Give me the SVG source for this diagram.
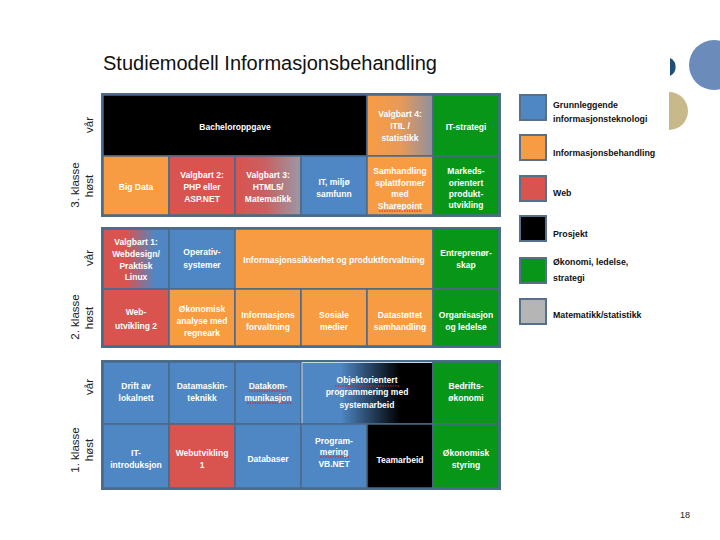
<svg xmlns="http://www.w3.org/2000/svg" width="720" height="540" viewBox="0 0 720 540">
<defs>
<style>
.blk{fill:#4d6d8c}
.c{stroke:#4a6a88;stroke-width:1.5}
.b{fill:#4f87c5}.o{fill:#f89c44}.r{fill:#d9534f}.g{fill:#089618}.k{fill:#000}.gr{fill:#b5b5b5}
.t{font-family:"Liberation Sans",Arial,sans-serif;font-size:8.5px;font-weight:bold;fill:#fff;text-anchor:middle}
.lg{font-family:"Liberation Sans",Arial,sans-serif;font-size:8.8px;font-weight:bold;fill:#111}
.side{font-family:"Liberation Sans",Arial,sans-serif;font-size:11.5px;fill:#222;text-anchor:middle}
.sq{stroke:#56708c;stroke-width:2}
.sp{stroke:#d02020;stroke-width:1;stroke-dasharray:1.5 1;fill:none}
</style>
<linearGradient id="gRedGrey" x1="0" y1="0" x2="1" y2="0"><stop offset="0" stop-color="#d9534f"/><stop offset="0.45" stop-color="#c96060"/><stop offset="1" stop-color="#9a98a6"/></linearGradient>
<linearGradient id="gOrGrey" x1="0" y1="0" x2="1" y2="0"><stop offset="0" stop-color="#f89c44"/><stop offset="0.5" stop-color="#e89a58"/><stop offset="1" stop-color="#8f90a0"/></linearGradient>
<linearGradient id="gRedBlue" x1="0" y1="0" x2="1" y2="0"><stop offset="0" stop-color="#d9534f"/><stop offset="0.35" stop-color="#d9534f"/><stop offset="0.8" stop-color="#4f87c5"/><stop offset="1" stop-color="#4f87c5"/></linearGradient>
<linearGradient id="gBlueBlack" x1="0" y1="0" x2="1" y2="0"><stop offset="0" stop-color="#4f87c5"/><stop offset="0.3" stop-color="#4f87c5"/><stop offset="0.75" stop-color="#000"/><stop offset="1" stop-color="#000"/></linearGradient>
</defs>
<rect width="720" height="540" fill="#fff"/>

<!-- decorative circles -->
<g id="decor">
<circle cx="714" cy="65" r="25" fill="#6b8cba"/>
<path d="M670,58 A10,10 0 0 1 670,76 Z" fill="#1f4e79"/>
<path d="M669,92 A19,19 0 0 1 669,130 Z" fill="#c8b98b"/>
</g>

<text x="103" y="70" font-family="Liberation Sans,Arial,sans-serif" font-size="20" fill="#111" textLength="334" lengthAdjust="spacingAndGlyphs">Studiemodell Informasjonsbehandling</text>

<!-- side labels -->
<g id="sidelabels">
<text class="side" transform="translate(93,125) rotate(-90)">vår</text>
<text class="side" transform="translate(79,185) rotate(-90)">3. klasse</text>
<text class="side" transform="translate(93,186) rotate(-90)">høst</text>
<text class="side" transform="translate(93,258) rotate(-90)">vår</text>
<text class="side" transform="translate(79,317) rotate(-90)" fill="#555">2. klasse</text>
<text class="side" transform="translate(93,318) rotate(-90)">høst</text>
<text class="side" transform="translate(93,387) rotate(-90)">vår</text>
<text class="side" transform="translate(79,450) rotate(-90)">1. klasse</text>
<text class="side" transform="translate(93,450) rotate(-90)">høst</text>
</g>

<!-- Block 1: 3. klasse -->
<rect class="blk" x="101" y="93" width="400" height="124"/>
<g id="bachelor"><rect class="c k" x="103" y="95" width="264" height="61"/><text class="t" x="235" y="130">Bacheloroppgave</text></g>
<g id="valgbart4"><rect class="c" fill="url(#gOrGrey)" x="367" y="95" width="66" height="61"/><text class="t" x="400" y="117">Valgbart 4:</text><text class="t" x="400" y="129">ITIL /</text><text class="t" x="400" y="141">statistikk</text></g>
<g id="itstrategi"><rect class="c g" x="433" y="95" width="66" height="61"/><text class="t" x="466" y="130">IT-strategi</text></g>
<g id="bigdata"><rect class="c o" x="103" y="156" width="66" height="59"/><text class="t" x="136" y="190">Big Data</text></g>
<g id="valgbart2"><rect class="c r" x="169" y="156" width="66" height="59"/><text class="t" x="202" y="178">Valgbart 2:</text><text class="t" x="202" y="190">PHP eller</text><text class="t" x="202" y="202">ASP.NET</text></g>
<g id="valgbart3"><rect class="c" fill="url(#gRedGrey)" x="235" y="156" width="66" height="59"/><text class="t" x="268" y="178">Valgbart 3:</text><text class="t" x="268" y="190">HTML5/</text><text class="t" x="268" y="202">Matematikk</text></g>
<g id="itmiljo"><rect class="c b" x="301" y="156" width="66" height="59"/><text class="t" x="334" y="185">IT, miljø</text><text class="t" x="334" y="197">samfunn</text></g>
<g id="samhandling"><rect class="c o" x="367" y="156" width="66" height="59"/><text class="t" x="400" y="174">Samhandling</text><text class="t" x="400" y="186">splattformer</text><text class="t" x="400" y="197">med</text><text class="t" x="400" y="209">Sharepoint</text><path class="sp" d="M379,211 H422"/></g>
<g id="markeds"><rect class="c g" x="433" y="156" width="66" height="59"/><text class="t" x="466" y="174">Markeds-</text><text class="t" x="466" y="186">orientert</text><text class="t" x="466" y="197">produkt-</text><text class="t" x="466" y="208">utvikling</text></g>

<!-- Block 2: 2. klasse -->
<rect class="blk" x="101" y="227" width="400" height="121"/>
<g id="valgbart1"><rect class="c" fill="url(#gRedBlue)" x="103" y="229" width="66" height="60"/><text class="t" x="136" y="245">Valgbart 1:</text><text class="t" x="136" y="257">Webdesign/</text><text class="t" x="136" y="269">Praktisk</text><text class="t" x="136" y="280">Linux</text></g>
<g id="operativ"><rect class="c b" x="169" y="229" width="66" height="60"/><text class="t" x="202" y="255">Operativ-</text><text class="t" x="202" y="268">systemer</text></g>
<g id="infosikkerhet"><rect class="c o" x="235" y="229" width="198" height="60"/><text class="t" x="334" y="263">Informasjonssikkerhet og produktforvaltning</text></g>
<g id="entreprenor"><rect class="c g" x="433" y="229" width="66" height="60"/><text class="t" x="466" y="256">Entreprenør-</text><text class="t" x="466" y="268">skap</text></g>
<g id="webutvikling2"><rect class="c r" x="103" y="289" width="66" height="57"/><text class="t" x="136" y="315">Web-</text><text class="t" x="136" y="329">utvikling 2</text></g>
<g id="okanalyse"><rect class="c o" x="169" y="289" width="66" height="57"/><text class="t" x="202" y="312">Økonomisk</text><text class="t" x="202" y="324">analyse med</text><text class="t" x="202" y="336">regneark</text></g>
<g id="infoforvaltning"><rect class="c o" x="235" y="289" width="66" height="57"/><text class="t" x="268" y="318">Informasjons</text><text class="t" x="268" y="330">forvaltning</text></g>
<g id="sosiale"><rect class="c o" x="301" y="289" width="66" height="57"/><text class="t" x="334" y="318">Sosiale</text><text class="t" x="334" y="330">medier</text></g>
<g id="datastottet"><rect class="c o" x="367" y="289" width="66" height="57"/><text class="t" x="400" y="318">Datastøttet</text><text class="t" x="400" y="330">samhandling</text></g>
<g id="organisasjon"><rect class="c g" x="433" y="289" width="66" height="57"/><text class="t" x="466" y="318">Organisasjon</text><text class="t" x="466" y="330">og ledelse</text></g>

<!-- Block 3: 1. klasse -->
<rect class="blk" x="101" y="360" width="400" height="130"/>
<g id="drift"><rect class="c b" x="103" y="362" width="66" height="62"/><text class="t" x="136" y="389">Drift av</text><text class="t" x="136" y="401">lokalnett</text></g>
<g id="datamaskin"><rect class="c b" x="169" y="362" width="66" height="62"/><text class="t" x="202" y="389">Datamaskin-</text><text class="t" x="202" y="401">teknikk</text></g>
<g id="datakom"><rect class="c b" x="235" y="362" width="66" height="62"/><text class="t" x="268" y="389">Datakom-</text><text class="t" x="268" y="401">munikasjon</text><path class="sp" d="M249,391 H288 M247,403 H291"/></g>
<g id="objektorientert"><rect class="c" fill="url(#gBlueBlack)" x="301" y="362" width="132" height="62"/><path d="M302,424 V362.5 H432" fill="none" stroke="#c8d4e4" stroke-width="1"/><text class="t" x="367" y="383">Objektorientert</text><text class="t" x="367" y="395">programmering med</text><text class="t" x="367" y="408">systemarbeid</text><path class="sp" d="M335,386 H400"/></g>
<g id="bedrift"><rect class="c g" x="433" y="362" width="66" height="62"/><text class="t" x="466" y="389">Bedrifts-</text><text class="t" x="466" y="401">økonomi</text></g>
<g id="itintro"><rect class="c b" x="103" y="424" width="66" height="64"/><text class="t" x="136" y="456">IT-</text><text class="t" x="136" y="468">introduksjon</text></g>
<g id="webutvikling1"><rect class="c r" x="169" y="424" width="66" height="64"/><text class="t" x="202" y="456">Webutvikling</text><text class="t" x="202" y="468">1</text></g>
<g id="databaser"><rect class="c b" x="235" y="424" width="66" height="64"/><text class="t" x="268" y="462">Databaser</text></g>
<g id="programmering"><rect class="c b" x="301" y="424" width="66" height="64"/><text class="t" x="334" y="444">Program-</text><text class="t" x="334" y="455">mering</text><text class="t" x="334" y="467">VB.NET</text><path class="sp" d="M320,457 H349"/></g>
<g id="teamarbeid"><rect class="c k" x="367" y="424" width="66" height="64"/><text class="t" x="400" y="463">Teamarbeid</text></g>
<g id="okstyring"><rect class="c g" x="433" y="424" width="66" height="64"/><text class="t" x="466" y="456">Økonomisk</text><text class="t" x="466" y="468">styring</text></g>

<!-- legend -->
<g id="legend">
<rect class="sq b" x="520" y="95" width="26" height="25"/>
<text class="lg" x="553" y="108">Grunnleggende</text><text class="lg" x="553" y="122">informasjonsteknologi</text>
<rect class="sq o" x="520" y="135" width="26" height="25"/>
<text class="lg" x="553" y="156">Informasjonsbehandling</text>
<rect class="sq r" x="520" y="176" width="26" height="25"/>
<text class="lg" x="553" y="196">Web</text>
<rect class="sq k" x="520" y="216" width="26" height="25"/>
<text class="lg" x="553" y="237">Prosjekt</text>
<rect class="sq g" x="520" y="258" width="26" height="25"/>
<text class="lg" x="553" y="265">Økonomi, ledelse,</text><text class="lg" x="553" y="281">strategi</text>
<rect class="sq gr" x="520" y="299" width="26" height="25"/>
<text class="lg" x="553" y="318">Matematikk/statistikk</text>
</g>

<text x="680" y="518" font-family="Liberation Sans,Arial,sans-serif" font-size="9" fill="#222">18</text>
</svg>
